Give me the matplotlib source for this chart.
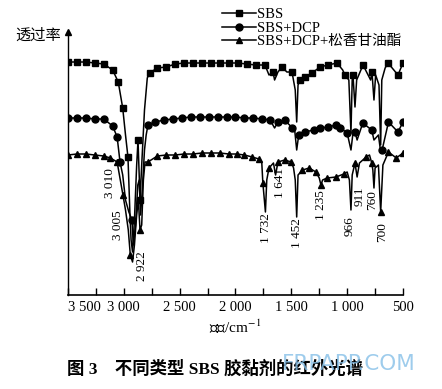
# IR spectra of three SBS adhesives

import matplotlib
matplotlib.use("Agg")
import matplotlib.pyplot as plt
import numpy as np

plt.rcParams['font.family'] = ['Liberation Serif', 'Noto Sans CJK SC', 'DejaVu Sans']
plt.rcParams['mathtext.fontset'] = 'stix'

# marked points (wavenumber, transmittance in arbitrary units)
sbs_wn = [3500, 3420, 3340, 3260, 3180, 3100, 3050, 3010, 2963, 2873, 2855, 2770, 2700, 2620,
          2540, 2460, 2380, 2300, 2220, 2140, 2060, 1980, 1900, 1820, 1736, 1664, 1584, 1494,
          1422, 1378, 1315, 1243, 1172, 1091, 1020, 948, 858, 778, 634, 545, 500]
sbs_t = [238, 238, 238, 237, 236, 230, 218, 192, 143, 160, 100, 227, 232, 233,
         236, 237, 237, 237, 237, 237, 237, 237, 236, 235, 235, 228, 233, 228,
         220, 223, 227, 233, 235, 237, 225, 225, 235, 228, 237, 225, 237]
# sharp bands, no markers
sbs_dip_wn = [2985, 2945, 2935, 2922, 2905, 2885, 2840, 2815, 2790, 1700, 1650, 1620, 1540,
              1465, 1452, 1440, 1040, 985, 966, 955, 930, 915, 790, 760, 745, 715, 700, 690, 660]
sbs_dip_t = [165, 85, 60, 48, 80, 135, 135, 190, 222, 225, 220, 228, 228,
             210, 178, 215, 230, 220, 167, 220, 193, 220, 220, 200, 225, 215, 155, 220, 232]

dcp_wn = [3500, 3420, 3340, 3260, 3180, 3100, 3060, 3034, 2927, 2784, 2720, 2640, 2560, 2480,
          2400, 2320, 2240, 2160, 2080, 2000, 1920, 1840, 1760, 1690, 1620, 1560, 1490, 1430,
          1380, 1300, 1240, 1170, 1100, 1060, 1000, 930, 860, 780, 687, 630, 545, 500]
dcp_t = [182, 182, 182, 181, 181, 174, 163, 138, 80, 175, 178, 180, 181, 182,
         183, 183, 183, 183, 183, 183, 182, 182, 181, 180, 178, 180, 172, 165,
         168, 170, 172, 173, 175, 172, 167, 168, 177, 170, 150, 178, 168, 178]
dcp_dip_wn = [3010, 2985, 2955, 2915, 2895, 2875, 2862, 2850, 2835, 2815, 2800, 1650, 1600,
              1470, 1452, 1440, 966, 950, 911, 760, 720, 700]
dcp_dip_t = [125, 100, 88, 55, 75, 115, 120, 85, 110, 150, 165, 172, 175,
             170, 150, 160, 150, 165, 160, 160, 165, 148]

ros_wn = [3500, 3420, 3340, 3260, 3180, 3120, 3060, 3008, 2942, 2855, 2784, 2700, 2620, 2540,
          2460, 2380, 2300, 2220, 2140, 2060, 1990, 1920, 1850, 1790, 1755, 1700, 1620, 1560,
          1500, 1400, 1340, 1280, 1235, 1180, 1100, 1030, 930, 830, 780, 700, 630, 560, 500]
ros_t = [145, 146, 146, 145, 144, 142, 138, 105, 45, 70, 138, 144, 145, 145,
         146, 146, 147, 147, 147, 146, 146, 145, 143, 141, 117, 132, 138, 140,
         138, 130, 132, 128, 115, 122, 123, 126, 137, 143, 137, 88, 148, 142, 147]
ros_dip_wn = [2985, 2960, 2922, 2905, 2885, 2870, 2840, 2825, 2810, 1765, 1732, 1720, 1660,
              1641, 1480, 1465, 1452, 1440, 1250, 1220, 1000, 980, 966, 955, 911, 890, 800,
              770, 760, 750, 720, 680]
ros_dip_t = [90, 70, 38, 55, 85, 100, 75, 120, 138, 138, 88, 120, 137,
             125, 132, 120, 83, 125, 122, 120, 128, 120, 90, 125, 123, 137, 145,
             130, 112, 132, 135, 135]

series = [
    ("SBS", sbs_wn, sbs_t, sbs_dip_wn, sbs_dip_t, "s"),
    ("SBS+DCP", dcp_wn, dcp_t, dcp_dip_wn, dcp_dip_t, "o"),
    ("SBS+DCP+松香甘油酯", ros_wn, ros_t, ros_dip_wn, ros_dip_t, "^"),
]

peaks = ["3 010", "3 005", "2 922", "1 732", "1 641", "1 452", "1 235", "966", "911", "760", "700"]
peak_wn = [3124, 3052, 2837, 1727, 1602, 1449, 1234, 975, 885, 778, 688]
peak_t = [117, 75, 34, 72, 117, 67, 95, 74, 104, 100, 68]

fig = plt.figure(figsize=(4.42, 3.89), dpi=100)
ax = fig.add_axes([68 / 442, 1 - 295 / 389, 335 / 442, 263 / 389])

for name, bw, bt, dw, dt, mk in series:
    w = np.array(bw + dw)
    t = np.array(bt + dt)
    order = np.argsort(-w)
    w, t = w[order], t[order]
    marked = [i for i in range(len(w)) if w[i] in bw]
    ax.plot(w, t, color='black', lw=1.1, marker=mk, markersize=5,
            markevery=marked, label=name)

for lab, pw, pt in zip(peaks, peak_wn, peak_t):
    ax.text(pw, pt, lab, rotation=90, ha='center', va='center', fontsize=9.5)

ax.set_xlim(3500, 500)
ax.set_ylim(5, 268)
ax.set_xticks(np.arange(500, 3501, 250), minor=False)
ax.set_xticklabels(["" if v % 500 else f"{v // 1000} {v % 1000:03d}" if v >= 1000 else str(v)
                    for v in np.arange(500, 3501, 250)])
ax.tick_params(axis='x', direction='in', length=5, width=1, labelsize=10.5, pad=4)
ax.get_xticklabels()[-1].set_ha('left')
ax.set_yticks([])
for s in ['top', 'right']:
    ax.spines[s].set_visible(False)
ax.spines['left'].set_linewidth(1)
ax.spines['bottom'].set_linewidth(1.2)
ax.plot([0], [1], marker='^', color='black', markersize=4, transform=ax.transAxes, clip_on=False)

ax.set_xlabel(r"波数/cm$^{-1}$", fontsize=11, labelpad=3)
fig.text(15 / 442, 1 - 36 / 389, "透过率", fontsize=11, va='center')

leg = ax.legend(loc='upper left', bbox_to_anchor=(215 / 442, 1 - 1 / 389),
                bbox_transform=fig.transFigure, frameon=False, fontsize=10.5,
                handlelength=2.3, handletextpad=0.1, labelspacing=0.0, borderpad=0,
                markerscale=1.0)

fig.text(215 / 442, 1 - 369 / 389, "图 3　不同类型 SBS 胶黏剂的红外光谱", fontsize=12.5,
         fontweight='bold', ha='center', va='center')
fig.text(349 / 442, 1 - 364 / 389, "FRPAPP.COM", fontsize=15.5, color='#86c0e8', alpha=0.8,
         family='DejaVu Sans', ha='center', va='center')

fig.savefig("out.png", dpi=100)
